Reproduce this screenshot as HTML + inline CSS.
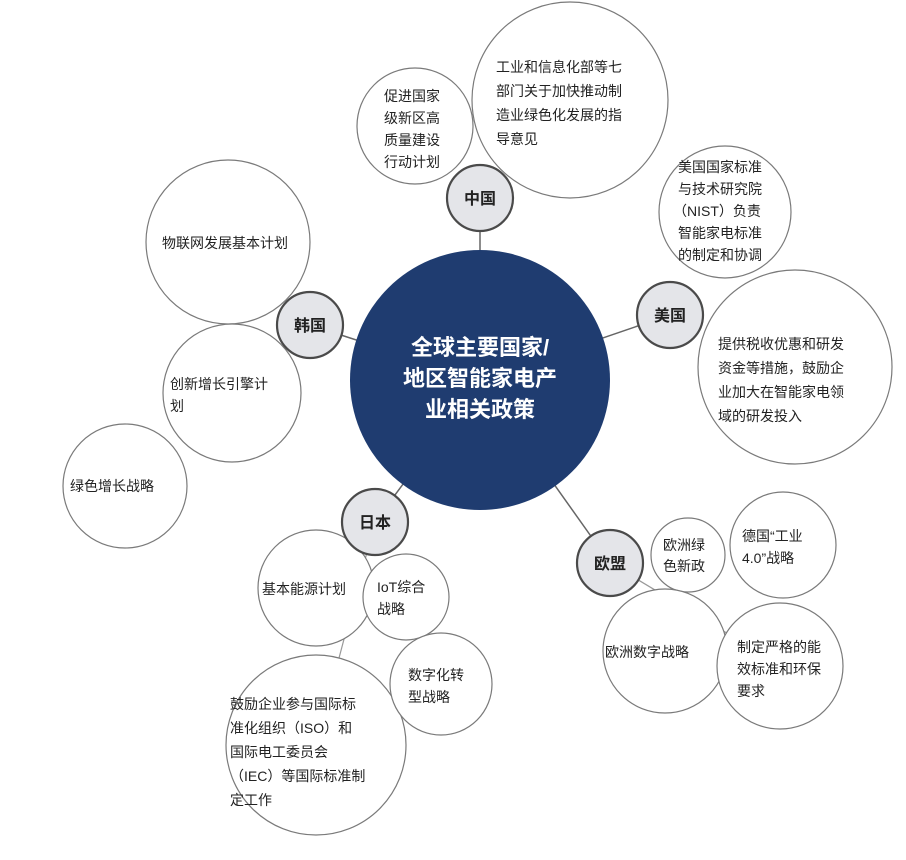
<!DOCTYPE html>
<html><head><meta charset="utf-8"><style>
html,body{margin:0;padding:0;background:#fff;}
svg{display:block;font-family:"Liberation Sans","Noto Sans CJK SC",sans-serif;}
.l{fill:#fff;stroke:#7a7a7a;stroke-width:1.2}
.c{fill:#e4e5e9;stroke:#4a4a4a;stroke-width:2.2}
.t{font-size:14px;fill:#222}
.ct{font-size:16px;font-weight:bold;fill:#222}
.ln{stroke:#666;stroke-width:1.5}
.gl{stroke:#999;stroke-width:1.2}
</style></head><body>
<svg width="906" height="860" viewBox="0 0 906 860">
<line class="ln" x1="480" y1="380" x2="480" y2="198"/>
<line class="ln" x1="480" y1="380" x2="670" y2="315"/>
<line class="ln" x1="480" y1="380" x2="310" y2="325"/>
<line class="ln" x1="480" y1="380" x2="375" y2="522"/>
<line class="ln" x1="480" y1="380" x2="610" y2="563"/>
<line class="gl" x1="375" y1="522" x2="316" y2="745"/>
<line class="gl" x1="610" y1="563" x2="780" y2="665"/>
<circle class="l" cx="570" cy="100" r="98"/>
<circle class="l" cx="415" cy="126" r="58"/>
<circle class="l" cx="725" cy="212" r="66"/>
<circle class="l" cx="795" cy="367" r="97"/>
<circle class="l" cx="228" cy="242" r="82"/>
<circle class="l" cx="232" cy="393" r="69"/>
<circle class="l" cx="125" cy="486" r="62"/>
<circle class="l" cx="316" cy="745" r="90"/>
<circle class="l" cx="316" cy="588" r="58"/>
<circle class="l" cx="406" cy="597" r="43"/>
<circle class="l" cx="441" cy="684" r="51"/>
<circle class="l" cx="688" cy="555" r="37"/>
<circle class="l" cx="783" cy="545" r="53"/>
<circle class="l" cx="665" cy="651" r="62"/>
<circle class="l" cx="780" cy="666" r="63"/>
<circle cx="480" cy="380" r="130" fill="#1f3c70"/>
<text x="480" y="355" text-anchor="middle" font-size="22" font-weight="bold" fill="#fff">全球主要国家/</text>
<text x="480" y="386" text-anchor="middle" font-size="22" font-weight="bold" fill="#fff">地区智能家电产</text>
<text x="480" y="417" text-anchor="middle" font-size="22" font-weight="bold" fill="#fff">业相关政策</text>
<circle class="c" cx="480" cy="198" r="33"/><text class="ct" x="480" y="204" text-anchor="middle">中国</text>
<circle class="c" cx="670" cy="315" r="33"/><text class="ct" x="670" y="321" text-anchor="middle">美国</text>
<circle class="c" cx="310" cy="325" r="33"/><text class="ct" x="310" y="331" text-anchor="middle">韩国</text>
<circle class="c" cx="375" cy="522" r="33"/><text class="ct" x="375" y="528" text-anchor="middle">日本</text>
<circle class="c" cx="610" cy="563" r="33"/><text class="ct" x="610" y="569" text-anchor="middle">欧盟</text>
<g class="t">
<text x="496" y="72">工业和信息化部等七</text>
<text x="496" y="96">部门关于加快推动制</text>
<text x="496" y="120">造业绿色化发展的指</text>
<text x="496" y="144">导意见</text>
<text x="384" y="101">促进国家</text>
<text x="384" y="123">级新区高</text>
<text x="384" y="145">质量建设</text>
<text x="384" y="167">行动计划</text>
<text x="678" y="172">美国国家标准</text>
<text x="678" y="194">与技术研究院</text>
<text x="673" y="216">（NIST）负责</text>
<text x="678" y="238">智能家电标准</text>
<text x="678" y="260">的制定和协调</text>
<text x="718" y="349">提供税收优惠和研发</text>
<text x="718" y="373">资金等措施，鼓励企</text>
<text x="718" y="397">业加大在智能家电领</text>
<text x="718" y="421">域的研发投入</text>
<text x="162" y="248">物联网发展基本计划</text>
<text x="170" y="389">创新增长引擎计</text>
<text x="170" y="411">划</text>
<text x="70" y="491">绿色增长战略</text>
<text x="262" y="594">基本能源计划</text>
<text x="377" y="592">IoT综合</text>
<text x="377" y="614">战略</text>
<text x="408" y="680">数字化转</text>
<text x="408" y="702">型战略</text>
<text x="230" y="709">鼓励企业参与国际标</text>
<text x="230" y="733">准化组织（ISO）和</text>
<text x="230" y="757">国际电工委员会</text>
<text x="230" y="781">（IEC）等国际标准制</text>
<text x="230" y="805">定工作</text>
<text x="663" y="550">欧洲绿</text>
<text x="663" y="571">色新政</text>
<text x="742" y="541">德国“工业</text>
<text x="742" y="563">4.0”战略</text>
<text x="605" y="657">欧洲数字战略</text>
<text x="737" y="652">制定严格的能</text>
<text x="737" y="674">效标准和环保</text>
<text x="737" y="696">要求</text>
</g>
</svg>
</body></html>
